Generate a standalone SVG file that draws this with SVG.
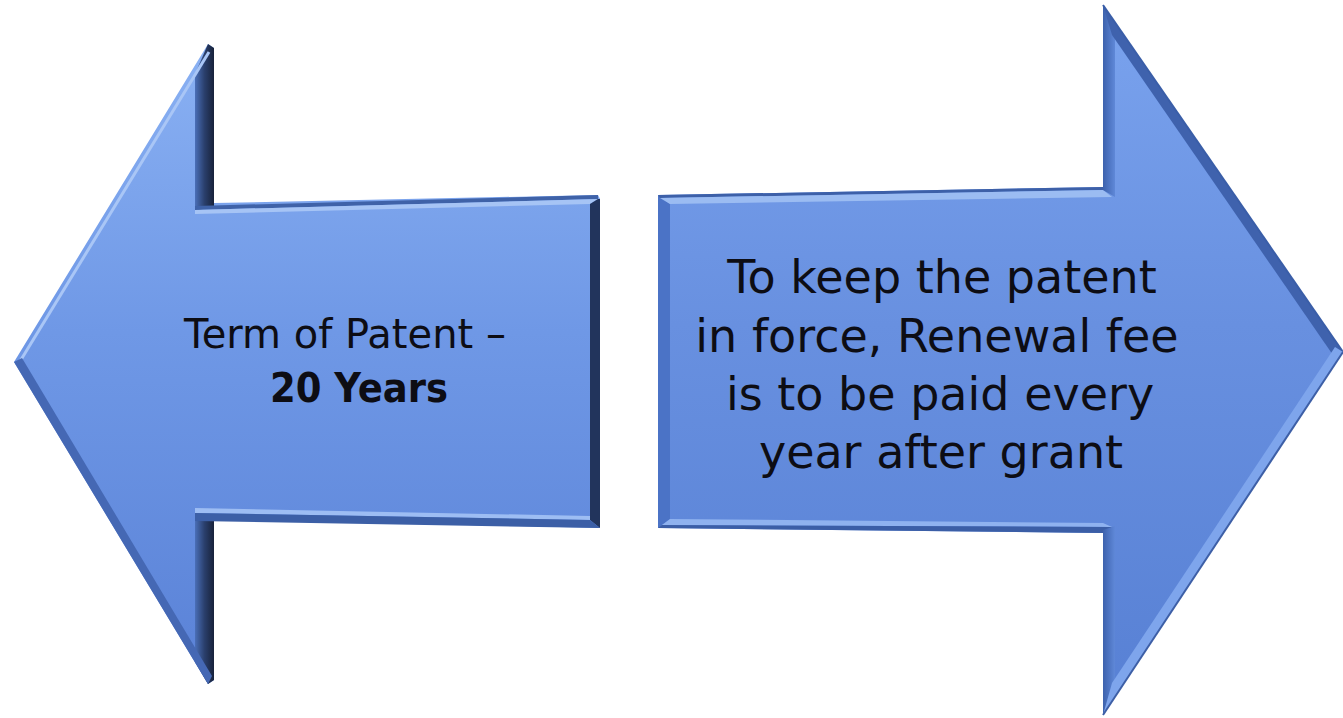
<svg xmlns="http://www.w3.org/2000/svg" width="1343" height="718" viewBox="0 0 1343 718">
<style>
.txt{font-family:"DejaVu Sans","Liberation Sans",sans-serif;fill:#0d0d14;text-anchor:middle}
.dark{fill:#1d2a48}
.hl{fill:none;stroke:#a9c6f6;stroke-width:3}
.edge{fill:none;stroke:#3a5ea8;stroke-width:2}
</style>
<defs>
<linearGradient id="gL" x1="0" y1="44" x2="0" y2="684" gradientUnits="userSpaceOnUse">
<stop offset="0" stop-color="#8ab1f3"/>
<stop offset="0.45" stop-color="#6f98e6"/>
<stop offset="1" stop-color="#5a82d7"/>
</linearGradient>
<linearGradient id="gR" x1="0" y1="5" x2="0" y2="715" gradientUnits="userSpaceOnUse">
<stop offset="0" stop-color="#7aa3ee"/>
<stop offset="0.45" stop-color="#6890e0"/>
<stop offset="1" stop-color="#5780d4"/>
</linearGradient>
<linearGradient id="gBackL" x1="0" y1="0" x2="1" y2="0">
<stop offset="0" stop-color="#4a6fb8"/>
<stop offset="0.5" stop-color="#2a3f6c"/>
<stop offset="1" stop-color="#18223a"/>
</linearGradient>
<linearGradient id="gBackR" x1="0" y1="0" x2="1" y2="0">
<stop offset="0" stop-color="#3d62ad"/>
<stop offset="1" stop-color="#5f88d8"/>
</linearGradient>
</defs>

<g id="left-arrow">
<polygon fill="url(#gL)" points="14,362 208,44 214,48 214,203 598,195 600,199 600,528 214,519 214,680 208,684"/>
<!-- head back edges -->
<polygon fill="url(#gBackL)" points="195,74 208,44 214,48 214,206 195,211"/>
<polygon fill="url(#gBackL)" points="195,521 214,519 214,680 208,684 195,662"/>
<!-- shaft top bevel -->
<polygon fill="#3f62a8" points="195,206 598,195 598,199 195,210"/>
<polygon fill="#a6c4f5" points="195,210 598,199 590,204 195,214"/>
<!-- shaft right bevel -->
<polygon fill="#22345c" points="590,204 598,199 600,199 600,528 590,520"/>
<!-- shaft bottom bevel -->
<polygon fill="#9dbdf3" points="195,508 590,516 590,520 195,513"/>
<polygon fill="#3c5fa6" points="195,513 590,520 600,528 195,521"/>
<!-- diagonals -->
<line class="hl" x1="209" y1="52" x2="19" y2="363"/>
<polygon fill="#4568b4" points="14,362 208,684 212,676 22,358"/>
<text class="txt" x="345" y="348" font-size="40">Term of Patent –</text>
<text class="txt" x="359" y="402" font-size="40" font-weight="bold" textLength="178" lengthAdjust="spacingAndGlyphs">20 Years</text>
</g>

<g id="right-arrow">
<polygon fill="url(#gR)" points="658,195 1103,187 1103,5 1343,352 1103,715 1103,533 658,528"/>
<!-- shaft left bevel -->
<polygon fill="#4b73c6" points="658,195 670,204 670,519 658,528"/>
<!-- shaft top bevel -->
<polygon fill="#3d60a8" points="658,195 1103,187 1103,190 660,198"/>
<polygon fill="#9bbcf2" points="660,198 1103,190 1112,197 670,204"/>
<!-- shaft bottom bevel -->
<polygon fill="#8fb2ef" points="670,519 1103,523 1112,527 662,525"/>
<polygon fill="#3b5ea6" points="662,525 1112,527 1103,533 658,528"/>
<!-- head back edges -->
<polygon fill="url(#gBackR)" points="1103,5 1115,30 1115,197 1103,190"/>
<polygon fill="url(#gBackR)" points="1103,530 1115,526 1115,688 1103,715"/>
<!-- upper diagonal dark band -->
<polygon fill="#3f62ad" points="1103,5 1343,352 1335,358 1112,35"/>
<line class="edge" x1="1103" y1="5" x2="1343" y2="352"/>
<!-- lower diagonal highlight band -->
<polygon fill="#7ea5ec" points="1343,352 1103,715 1112,683 1335,347"/>
<line x1="1343" y1="352" x2="1103" y2="715" stroke="#3d5fa6" stroke-width="2"/>
<text class="txt" x="942" y="293" font-size="46">To keep the patent</text>
<text class="txt" x="937" y="352" font-size="46">in force, Renewal fee</text>
<text class="txt" x="940" y="410" font-size="46">is to be paid every</text>
<text class="txt" x="941" y="468" font-size="46">year after grant</text>
</g>
</svg>
